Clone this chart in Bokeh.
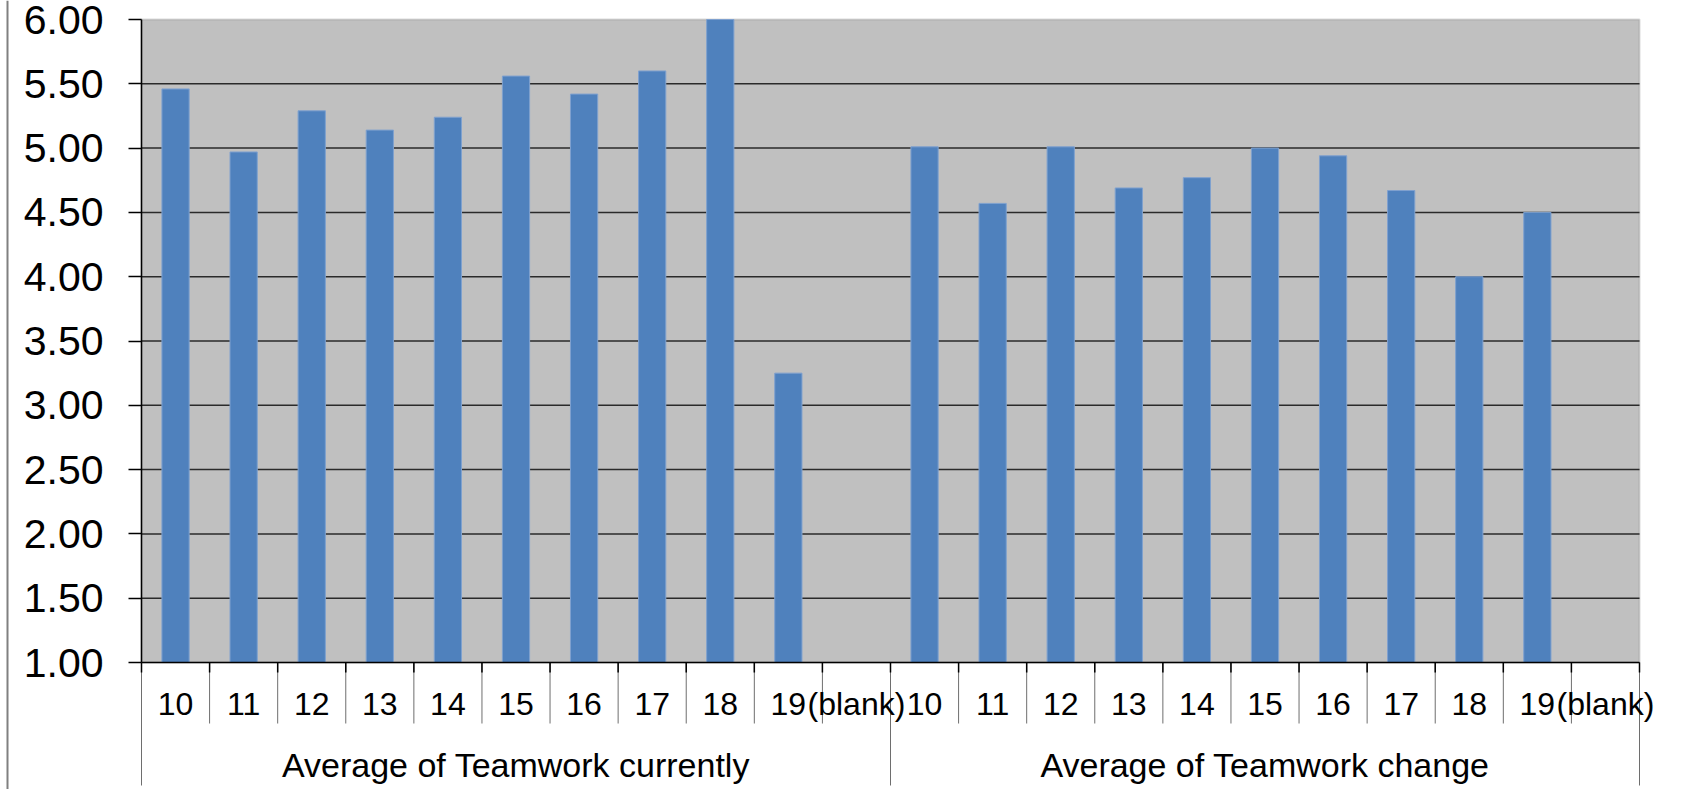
from bokeh.plotting import figure
from bokeh.models import Range1d, FixedTicker, ColumnDataSource, LinearAxis, BoxAnnotation
from bokeh.embed import file_html
from bokeh.resources import INLINE
from bokeh.core.properties import value

# ---------------- data ----------------
subcats = ["10", "11", "12", "13", "14", "15", "16", "17", "18", "19", "(blank)"]
groups = ["Average of Teamwork currently", "Average of Teamwork change"]
teamwork_currently = [5.46, 4.97, 5.29, 5.14, 5.24, 5.56, 5.42, 5.60, 6.00, 3.25, None]
teamwork_change = [5.01, 4.57, 5.01, 4.69, 4.77, 5.00, 4.94, 4.67, 4.00, 4.50, None]
y_ticks = [1.0, 1.5, 2.0, 2.5, 3.0, 3.5, 4.0, 4.5, 5.0, 5.5, 6.0]
y_tick_labels = ["1.00", "1.50", "2.00", "2.50", "3.00", "3.50", "4.00", "4.50", "5.00", "5.50", "6.00"]

# ---------------- layout constants (pixels) ----------------
W, H = 1665, 789
PLOT_L, PLOT_R = 141, 1639      # plot area left / right edge
PLOT_T, PLOT_B = 19, 662        # plot area top / bottom edge
TICK_OUT, LABEL_GAP = 13, 25
Y_MIN, Y_MAX = y_ticks[0], y_ticks[-1]
FONT = value("Liberation Sans")

series = [teamwork_currently, teamwork_change]
n_sub = len(subcats)
N = n_sub * len(groups)
u = (PLOT_R - PLOT_L) / N                 # px per category
k = (PLOT_B - PLOT_T) / (Y_MAX - Y_MIN)   # px per value unit


def dy(px):
    return px / k


def below(px):
    """value coordinate lying px pixels below the value-axis baseline"""
    return Y_MIN - dy(px)


x_range = Range1d(-PLOT_L / u, (W - PLOT_L) / u)
y_range = Range1d(Y_MAX - dy(H - PLOT_T), Y_MAX + dy(PLOT_T))

p = figure(width=W, height=H, x_range=x_range, y_range=y_range,
           output_backend="svg", toolbar_location=None,
           x_axis_location=None, y_axis_location=None,
           min_border_left=0, min_border_right=0, min_border_top=0, min_border_bottom=0,
           background_fill_color="white", border_fill_color="white",
           outline_line_color=None)
p.grid.visible = False

# plot area background + border
p.add_layout(BoxAnnotation(left=0, right=N, bottom=Y_MIN, top=Y_MAX,
                           fill_color="#C0C0C0", fill_alpha=1.0,
                           line_color="#878787", line_width=2, level="underlay"))

# horizontal gridlines
gl = y_ticks[1:-1]
p.segment(x0=[0] * len(gl), y0=gl, x1=[N] * len(gl), y1=gl,
          line_color="#2a2a2a", line_width=1.5)

# bars
xs = [i + 0.5 for i in range(N)]
tops = [float("nan") if v is None else v for s in series for v in s]
src = ColumnDataSource(dict(x=xs, top=tops))
p.vbar(x="x", top="top", bottom=Y_MIN, width=0.4, source=src,
       fill_color="#4F81BD", line_color="#7FA1CF", line_width=1)

# value axis (line + ticks)
ax = LinearAxis(fixed_location=0, bounds=(Y_MIN, Y_MAX))
ax.ticker = FixedTicker(ticks=y_ticks)
ax.axis_line_color = "black"
ax.axis_line_width = 1.5
ax.major_tick_line_color = "black"
ax.major_tick_line_width = 1.5
ax.major_tick_out = TICK_OUT
ax.major_tick_in = 0
ax.minor_tick_line_color = None
ax.major_label_text_color = None
p.add_layout(ax, "left")

# value-axis tick labels
p.text(x=[0] * len(y_ticks), y=y_ticks, text=y_tick_labels, text_font=FONT,
       text_font_size="41px", text_align="right", text_baseline="middle",
       x_offset=-(TICK_OUT + LABEL_GAP), text_color="black")

# ---------------- category axis ----------------
bounds = list(range(N + 1))
group_bounds = [g * n_sub for g in range(len(groups) + 1)]
nb, ng = len(bounds), len(group_bounds)

p.segment(x0=bounds, y0=[Y_MIN] * nb, x1=bounds, y1=[below(61)] * nb,
          line_color="#6e6e6e", line_width=1)
p.segment(x0=group_bounds, y0=[Y_MIN] * ng, x1=group_bounds, y1=[below(123)] * ng,
          line_color="#6e6e6e", line_width=1)
p.segment(x0=bounds, y0=[Y_MIN] * nb, x1=bounds, y1=[below(10)] * nb,
          line_color="black", line_width=1.5)
p.segment(x0=[0], y0=[Y_MIN], x1=[N], y1=[Y_MIN], line_color="black", line_width=1.6)

labels_all = [c for _ in groups for c in subcats]
p.text(x=xs, y=[below(41)] * N, text=labels_all, text_font=FONT, text_font_size="32px",
       text_align="center", text_baseline="alphabetic", text_color="black")

gx = [(group_bounds[g] + group_bounds[g + 1]) / 2 for g in range(len(groups))]
p.text(x=gx, y=[below(102)] * len(groups), text=groups, text_font=FONT,
       text_font_size="34px", text_align="center", text_baseline="alphabetic",
       text_color="black")

# chart-area left border
edge_x = (7 - PLOT_L) / u
p.segment(x0=[edge_x], y0=[y_range.start], x1=[edge_x], y1=[y_range.end],
          line_color="#808080", line_width=2)

open("out.html", "w").write(file_html(p, INLINE))
